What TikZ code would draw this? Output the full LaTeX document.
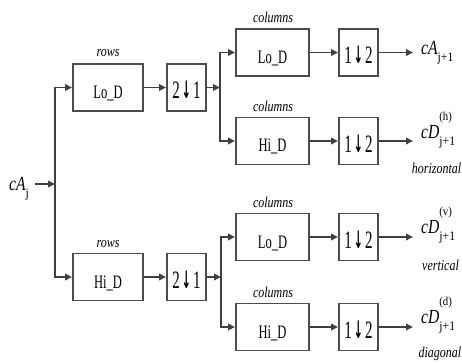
\documentclass[tikz,border=0pt]{standalone}
\usepackage{fontspec}
\usetikzlibrary{arrows.meta}
\setmainfont{Liberation Serif}
\newfontfamily\blockfont{Liberation Serif}[FakeStretch=0.66]
\newfontfamily\digitfont{Liberation Serif}[FakeStretch=0.6]
\newfontfamily\arrowglyph{DejaVu Sans}[FakeStretch=0.45]
\newfontfamily\tagfont{Liberation Serif}[FakeStretch=0.8]
\newfontfamily\sigfont{Liberation Serif}[FakeStretch=0.78]
\newfontfamily\idxfont{Liberation Serif}[FakeStretch=0.9]
% index and band markers of the coefficient names
\newcommand{\idx}[1]{\raisebox{-7pt}{\idxfont\upshape\fontsize{13}{13}\selectfont #1}}
\newcommand{\band}[1]{\makebox[0pt][l]{\raisebox{18pt}{\idxfont\upshape\fontsize{12}{12}\selectfont #1}}}
\newcommand{\dsarrow}{{\arrowglyph\bfseries\fontsize{24}{24}\selectfont ↓}}
\begin{document}
\begin{tikzpicture}[x=1pt,y=1pt,
  wire/.style={draw=black!75, line width=1.7pt, line cap=rect},
  feed/.style={draw=black!75, line width=1.7pt, -{Triangle[length=7pt,width=6.5pt]}},
  filterbox/.style={draw=black!70, line width=1.9pt, minimum height=47pt, inner sep=0pt,
    font=\blockfont\fontsize{19}{19}\selectfont, text height=22pt, text depth=0pt},
  rowbox/.style={filterbox, minimum width=70pt},
  colbox/.style={filterbox, minimum width=73pt},
  dsbox/.style={draw=black!70, line width=1.9pt, minimum width=39pt, minimum height=47pt,
    inner sep=0pt, font=\digitfont\fontsize{25}{25}\selectfont, text height=23pt, text depth=0pt},
  tag/.style={font=\tagfont\itshape\fontsize{15}{15}\selectfont, inner sep=0pt},
  sig/.style={font=\sigfont\itshape\fontsize{20}{20}\selectfont, inner sep=0pt, anchor=base west}
]
\useasboundingbox (0,0) rectangle (462,-363);

% input
\node[sig] (cAj) at (9,-190) {cA\idx{j}};
\coordinate (inTail) at (35,-184);
\coordinate (split0) at (55,-184);
\draw[feed] (inTail) -- (split0);

% row filtering
\node[rowbox] (rowLo) at (108,-87.5) {Lo\_D};
\node[rowbox] (rowHi) at (108,-277) {Hi\_D};
\node[tag, anchor=base] (rowLoTag) at (108,-57) {rows};
\node[tag, anchor=base] (rowHiTag) at (108,-247) {rows};
\node[dsbox] (dsLo) at (186.5,-87.5) {2\hspace{2pt}\dsarrow\hspace{2pt}1};
\node[dsbox] (dsHi) at (186.5,-277) {2\hspace{2pt}\dsarrow\hspace{2pt}1};

\draw[wire] (split0 |- rowLo) -- (split0 |- rowHi);
\draw[feed] (split0 |- rowLo) -- (rowLo);
\draw[feed] (split0 |- rowHi) -- (rowHi);
\draw[feed] (rowLo) -- (dsLo);
\draw[feed] (rowHi) -- (dsHi);

% column filtering
\coordinate (splitA) at (220,-89);
\coordinate (splitB) at (221,-277);
\node[colbox] (colLoA) at (272.5,-52.5) {Lo\_D};
\node[colbox] (colHiA) at (272.5,-141) {Hi\_D};
\node[colbox] (colLoB) at (272.5,-237) {Lo\_D};
\node[colbox] (colHiB) at (272.5,-327) {Hi\_D};
\node[tag, anchor=base] (colLoATag) at (273,-23) {columns};
\node[tag, anchor=base] (colHiATag) at (273,-111.5) {columns};
\node[tag, anchor=base] (colLoBTag) at (273,-207.5) {columns};
\node[tag, anchor=base] (colHiBTag) at (273,-297.5) {columns};

\draw[feed] (dsLo) -- (dsLo -| splitA);
\draw[feed] (dsHi) -- (dsHi -| splitB);
\draw[wire] (splitA |- colLoA) -- (splitA |- colHiA);
\draw[wire] (splitB |- colLoB) -- (splitB |- colHiB);
\draw[feed] (splitA |- colLoA) -- (colLoA);
\draw[feed] (splitA |- colHiA) -- (colHiA);
\draw[feed] (splitB |- colLoB) -- (colLoB);
\draw[feed] (splitB |- colHiB) -- (colHiB);

\node[dsbox] (dsA) at (358.5,-52.5) {1\hspace{2pt}\dsarrow\hspace{2pt}2};
\node[dsbox] (dsB) at (358.5,-141) {1\hspace{2pt}\dsarrow\hspace{2pt}2};
\node[dsbox] (dsC) at (358.5,-237) {1\hspace{2pt}\dsarrow\hspace{2pt}2};
\node[dsbox] (dsD) at (358.5,-327) {1\hspace{2pt}\dsarrow\hspace{2pt}2};
\draw[feed] (colLoA) -- (dsA);
\draw[feed] (colHiA) -- (dsB);
\draw[feed] (colLoB) -- (dsC);
\draw[feed] (colHiB) -- (dsD);

% outputs
\coordinate (outEnd) at (413,0);
\draw[feed] (dsA) -- (dsA -| outEnd);
\draw[feed] (dsB) -- (dsB -| outEnd);
\draw[feed] (dsC) -- (dsC -| outEnd);
\draw[feed] (dsD) -- (dsD -| outEnd);

\node[sig] (cAout) at (421,-55) {cA\idx{j+1}};
\node[sig] (cDh) at (421,-139) {cD\band{(h)}\idx{j+1}};
\node[sig] (cDv) at (421,-233) {cD\band{(v)}\idx{j+1}};
\node[sig] (cDd) at (421,-323) {cD\band{(d)}\idx{j+1}};
\node[tag, anchor=base east] (hzTag) at (461.5,-174) {horizontal};
\node[tag, anchor=base west] (vtTag) at (422,-270) {vertical};
\node[tag, anchor=base east] (dgTag) at (461.5,-357) {diagonal};
\end{tikzpicture}
\end{document}
